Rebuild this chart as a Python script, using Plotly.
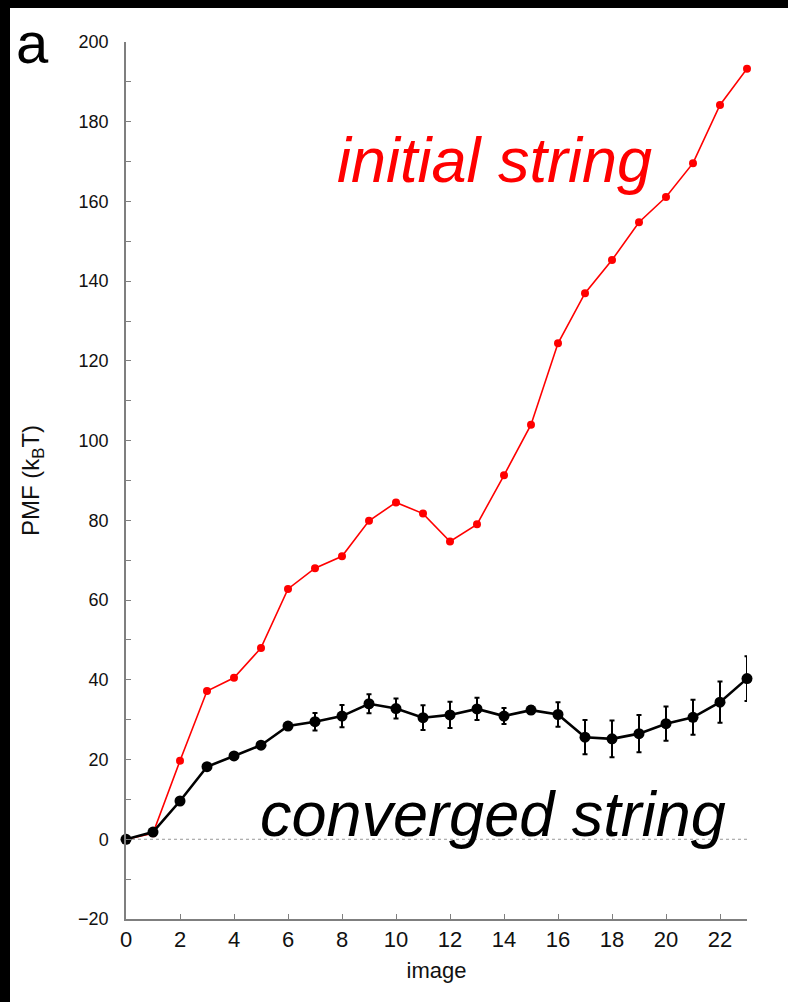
import plotly.graph_objects as go

images = list(range(24))
initial_pmf = [0, 1.5, 19.7, 37.2, 40.5, 48.0, 62.8, 68.0, 71.0, 79.9, 84.5, 81.7,
               74.7, 79.0, 91.3, 104.0, 124.4, 137.0, 145.3, 154.8, 161.1, 169.6, 184.2, 193.3]
converged_pmf = [0, 1.8, 9.6, 18.2, 20.9, 23.6, 28.4, 29.5, 30.9, 34.0, 32.8, 30.5,
                 31.2, 32.7, 30.9, 32.4, 31.3, 25.6, 25.2, 26.5, 29.0, 30.6, 34.4, 40.3]
converged_err = [0, 0.3, 0.4, 0.5, 0.5, 0.6, 0.8, 2.2, 2.8, 2.4, 2.5, 3.1,
                 3.3, 2.8, 2.0, 1.0, 3.1, 4.3, 4.6, 4.7, 4.3, 4.4, 5.2, 5.6]

x_ticks = list(range(0, 24, 2))
y_ticks = list(range(-20, 201, 20))

SANS = "Liberation Sans, Arial, Helvetica, sans-serif"
AXIS_GREY = "#7f7f7f"

fig = go.Figure()

fig.add_trace(go.Scatter(
    x=images, y=initial_pmf, mode="lines+markers",
    line=dict(color="#ff0000", width=1.6),
    marker=dict(color="#ff0000", size=8),
    showlegend=False, cliponaxis=False,
))
fig.add_trace(go.Scatter(
    x=images, y=converged_pmf, mode="lines+markers",
    line=dict(color="#000000", width=2.6),
    marker=dict(color="#000000", size=11),
    error_y=dict(type="data", array=converged_err, visible=True,
                 color="#000000", thickness=2, width=2.5),
    showlegend=False, cliponaxis=False,
))

fig.add_shape(type="line", xref="x", yref="y", x0=0, x1=23, y0=0, y1=0,
              line=dict(color="#999999", width=1, dash="dot"), layer="below")

fig.add_annotation(x=13.65, y=170.5, xref="x", yref="y", text="<i>initial string</i>",
                   showarrow=False, font=dict(family=SANS, size=63, color="#ff0000"),
                   xanchor="center", yanchor="middle")
fig.add_annotation(x=13.6, y=6.3, xref="x", yref="y", text="<i>converged string</i>",
                   showarrow=False, font=dict(family=SANS, size=63, color="#000000"),
                   xanchor="center", yanchor="middle")
fig.add_annotation(x=-0.151, y=1.0, xref="paper", yref="paper", text="a",
                   showarrow=False, font=dict(family=SANS, size=58, color="#000000"),
                   xanchor="center", yanchor="middle")

# black frame bands (top and left) of the reference picture
fig.add_shape(type="rect", xref="paper", yref="paper",
              x0=-126 / 621, x1=(10 - 126) / 621, y0=-83 / 877, y1=919 / 877,
              fillcolor="black", line=dict(width=0), layer="above")
fig.add_shape(type="rect", xref="paper", yref="paper",
              x0=-126 / 621, x1=662 / 621, y0=911 / 877, y1=919 / 877,
              fillcolor="black", line=dict(width=0), layer="above")

fig.update_xaxes(
    range=[0, 23], tickvals=x_ticks, ticktext=[str(v) for v in x_ticks],
    ticks="inside", ticklen=5, tickwidth=1, tickcolor=AXIS_GREY,
    showline=True, linecolor=AXIS_GREY, linewidth=1.5, showgrid=False, zeroline=False,
    tickfont=dict(family=SANS, size=22, color="#111111"),
    title=dict(text="image", font=dict(family=SANS, size=22, color="#111111"), standoff=11),
)
fig.update_yaxes(
    range=[-20, 200], tickvals=y_ticks, ticktext=["\u221220" if v < 0 else str(v) for v in y_ticks],
    ticks="inside", ticklen=5, tickwidth=1, tickcolor=AXIS_GREY,
    minor=dict(dtick=10, ticks="inside", ticklen=5, tickcolor=AXIS_GREY, showgrid=False),
    showline=True, linecolor=AXIS_GREY, linewidth=1.5, showgrid=False, zeroline=False,
    tickfont=dict(family=SANS, size=18, color="#111111"),
    ticklabelstandoff=12,
    title=dict(text="PMF (k<sub>B</sub>T)", font=dict(family=SANS, size=24, color="#111111"), standoff=32),
)

fig.update_layout(
    width=788, height=1002,
    margin=dict(l=126, r=41, t=42, b=83),
    paper_bgcolor="white", plot_bgcolor="white",
)

fig.write_html("out.html", config={"displayModeBar": False},
               post_script="document.body.style.margin='0';")
